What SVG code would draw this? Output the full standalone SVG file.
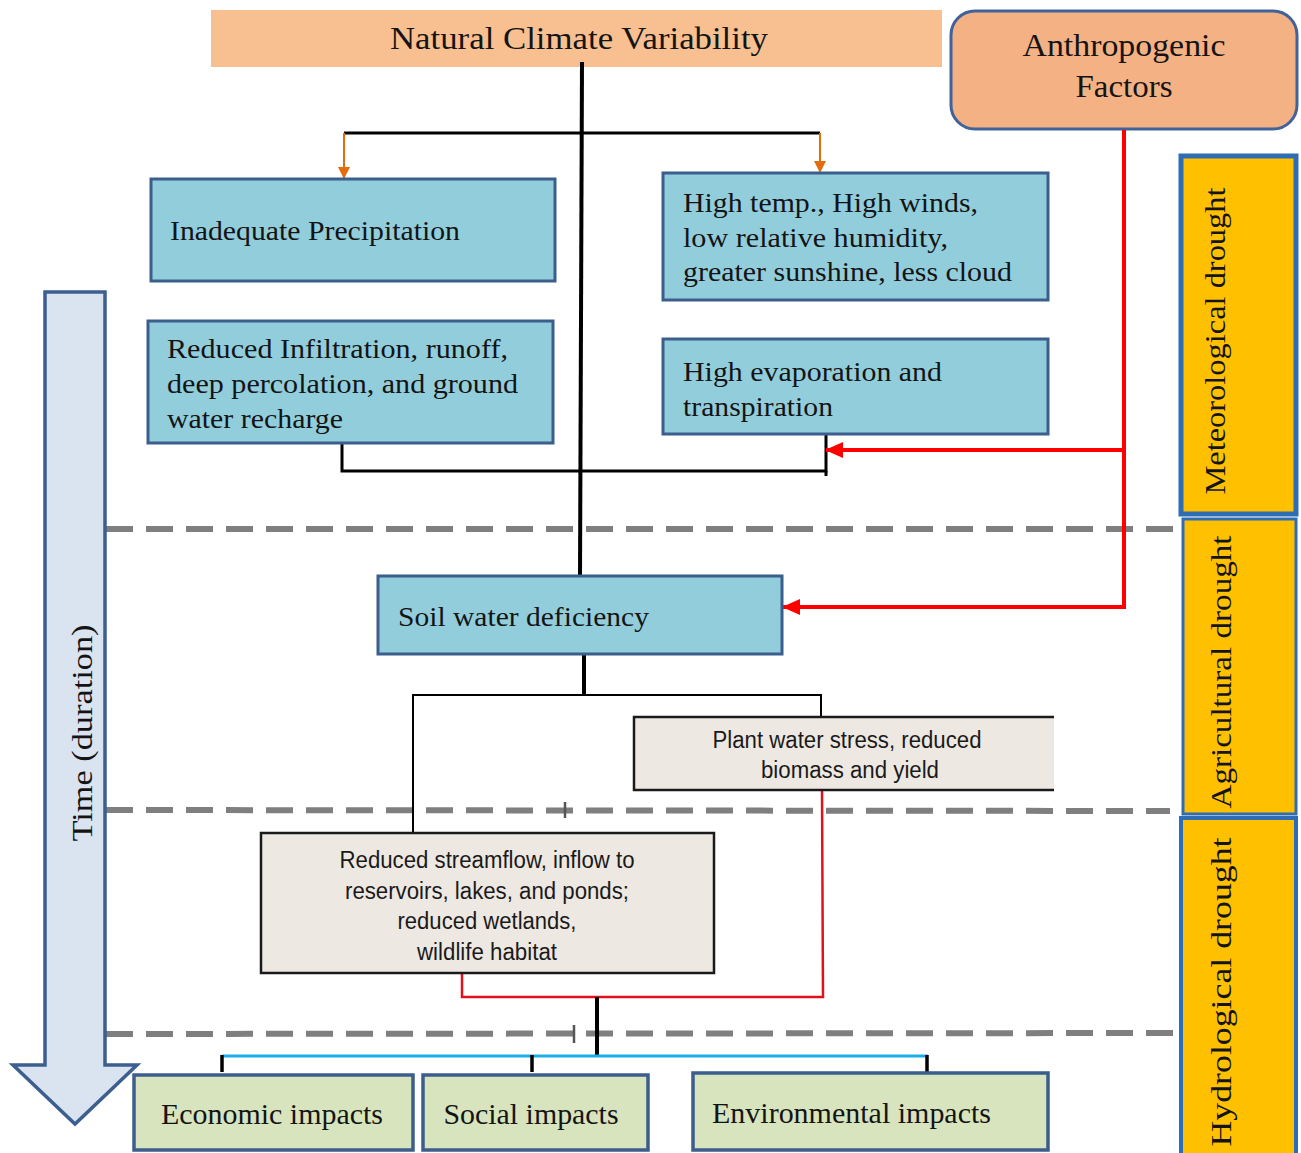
<svg xmlns="http://www.w3.org/2000/svg" width="1301" height="1153" viewBox="0 0 1301 1153">
<style>
.serif{font-family:"Liberation Serif","Times New Roman",serif;fill:#141414}
.sans{font-family:"Liberation Sans",Arial,sans-serif;fill:#1a1a1a;font-size:23px}
.blue{fill:#92CDDC;stroke:#3B5E8C;stroke-width:3}
.beige{fill:#EEE8E2;stroke:#1a1a1a;stroke-width:2.5}
.green{fill:#D7E4BD;stroke:#3B5E8C;stroke-width:3.5}
.bar{fill:#FFC000;stroke:#2E6DB4}
.dash{stroke:#7F7F7F;stroke-width:6;stroke-dasharray:27 13;fill:none}
.blk{stroke:#000;fill:none}
.red{stroke:#FF0000;fill:none}
</style>
<defs>
<marker id="ao" markerWidth="12" markerHeight="12" refX="11" refY="6" orient="auto" markerUnits="userSpaceOnUse" viewBox="0 0 12 12"><path d="M0,0 L12,6 L0,12 Z" fill="#E46C0A"/></marker>
<marker id="ar" markerWidth="18" markerHeight="18" refX="17" refY="9" orient="auto" markerUnits="userSpaceOnUse" viewBox="0 0 18 18"><path d="M0,1 L18,9 L0,17 Z" fill="#FF0000"/></marker>
</defs>
<rect width="1301" height="1153" fill="#fff"/>

<g id="dashes">
<line class="dash" x1="106" y1="529" x2="1180" y2="529"/>
<line class="dash" x1="106" y1="810" x2="1170" y2="811"/>
<line class="dash" x1="106" y1="1034" x2="1178" y2="1033"/>
</g>

<g id="time-arrow">
<polygon points="45,292 105,292 105,1065 137,1065 75,1124 13,1065 45,1065" fill="#DAE3F0" stroke="#3D5F90" stroke-width="3.5"/>
<text class="serif" font-size="30" text-anchor="middle" textLength="217" lengthAdjust="spacingAndGlyphs" transform="translate(82,733) rotate(-90)" y="10">Time (duration)</text>
</g>

<g id="natural">
<rect x="211" y="10" width="731" height="57" fill="#F8C090"/>
<text class="serif" font-size="32" x="579" y="49" text-anchor="middle" textLength="378" lengthAdjust="spacingAndGlyphs">Natural Climate Variability</text>
</g>

<g id="anthropogenic">
<rect x="951" y="11" width="346" height="118" rx="24" fill="#F4B183" stroke="#41639A" stroke-width="3"/>
<text class="serif" font-size="31" x="1124" y="56" text-anchor="middle" textLength="203" lengthAdjust="spacingAndGlyphs">Anthropogenic</text>
<text class="serif" font-size="31" x="1124" y="97" text-anchor="middle" textLength="97" lengthAdjust="spacingAndGlyphs">Factors</text>
</g>

<g id="connectors">
<line class="blk" x1="582" y1="62" x2="580" y2="576" stroke-width="4"/>
<polyline class="blk" points="344,133 820,133" stroke-width="3"/>
<line x1="344" y1="133" x2="344" y2="178" stroke="#E46C0A" stroke-width="2" marker-end="url(#ao)"/>
<line x1="820" y1="133" x2="820" y2="172" stroke="#E46C0A" stroke-width="2" marker-end="url(#ao)"/>
<polyline class="blk" points="342,443 342,471 826,471 826,434" stroke-width="3"/>
<line class="blk" x1="826" y1="471" x2="826" y2="476" stroke-width="3"/>
<polyline class="red" points="1124,130 1124,607 783,607" stroke-width="4" marker-end="url(#ar)"/>
<line class="red" x1="1124" y1="450" x2="826" y2="450" stroke-width="4" marker-end="url(#ar)"/>
<line class="blk" x1="584" y1="654" x2="584" y2="694" stroke-width="4"/>
<polyline class="blk" points="413,833 413,695 821,695 821,717" stroke-width="2"/>
<polyline points="822,790 823,997 462,997 462,973" fill="none" stroke="#E2101A" stroke-width="2.5"/>
<line class="blk" x1="597" y1="997" x2="597" y2="1055" stroke-width="4"/>
<line x1="222" y1="1056" x2="928" y2="1056" stroke="#1AAEE8" stroke-width="3"/>
<line class="blk" x1="222" y1="1055" x2="222" y2="1072" stroke-width="3.5"/>
<line class="blk" x1="532" y1="1055" x2="532" y2="1072" stroke-width="3.5"/>
<line class="blk" x1="927" y1="1055" x2="927" y2="1075" stroke-width="3.5"/>
<line x1="565" y1="802" x2="565" y2="818" stroke="#555" stroke-width="2.5"/>
<line x1="574" y1="1025" x2="574" y2="1043" stroke="#555" stroke-width="2.5"/>
</g>

<g id="inadequate">
<rect class="blue" x="151" y="179" width="404" height="102"/>
<text class="serif" font-size="28" x="170" y="240" textLength="290" lengthAdjust="spacingAndGlyphs">Inadequate Precipitation</text>
</g>

<g id="hightemp">
<rect class="blue" x="663" y="173" width="385" height="127"/>
<text class="serif" font-size="28" x="683" y="212" textLength="295" lengthAdjust="spacingAndGlyphs">High temp., High winds,</text>
<text class="serif" font-size="28" x="683" y="247" textLength="265" lengthAdjust="spacingAndGlyphs">low relative humidity,</text>
<text class="serif" font-size="28" x="683" y="281" textLength="329" lengthAdjust="spacingAndGlyphs">greater sunshine, less cloud</text>
</g>

<g id="reduced-infiltration">
<rect class="blue" x="148" y="321" width="405" height="122"/>
<text class="serif" font-size="28" x="167" y="358" textLength="341" lengthAdjust="spacingAndGlyphs">Reduced Infiltration, runoff,</text>
<text class="serif" font-size="28" x="167" y="393" textLength="351" lengthAdjust="spacingAndGlyphs">deep percolation, and ground</text>
<text class="serif" font-size="28" x="167" y="428" textLength="176" lengthAdjust="spacingAndGlyphs">water recharge</text>
</g>

<g id="high-evaporation">
<rect class="blue" x="663" y="339" width="385" height="95"/>
<text class="serif" font-size="28" x="683" y="381" textLength="259" lengthAdjust="spacingAndGlyphs">High evaporation and</text>
<text class="serif" font-size="28" x="683" y="416" textLength="150" lengthAdjust="spacingAndGlyphs">transpiration</text>
</g>

<g id="soil">
<rect class="blue" x="378" y="576" width="404" height="78"/>
<text class="serif" font-size="28" x="398" y="626" textLength="251" lengthAdjust="spacingAndGlyphs">Soil water deficiency</text>
</g>

<g id="plant">
<rect x="634" y="717" width="420" height="73" fill="#EEE8E2"/>
<polyline points="1054,717 634,717 634,790 1054,790" fill="none" stroke="#1a1a1a" stroke-width="2.5"/>
<text class="sans" x="847" y="748" text-anchor="middle" textLength="269" lengthAdjust="spacingAndGlyphs">Plant water stress, reduced</text>
<text class="sans" x="850" y="778" text-anchor="middle" textLength="178" lengthAdjust="spacingAndGlyphs">biomass and yield</text>
</g>

<g id="streamflow">
<rect class="beige" x="261" y="833" width="453" height="140"/>
<text class="sans" x="487" y="868" text-anchor="middle" textLength="295" lengthAdjust="spacingAndGlyphs">Reduced streamflow, inflow to</text>
<text class="sans" x="487" y="899" text-anchor="middle" textLength="284" lengthAdjust="spacingAndGlyphs">reservoirs, lakes, and ponds;</text>
<text class="sans" x="487" y="929" text-anchor="middle" textLength="179" lengthAdjust="spacingAndGlyphs">reduced wetlands,</text>
<text class="sans" x="487" y="960" text-anchor="middle" textLength="140" lengthAdjust="spacingAndGlyphs">wildlife habitat</text>
</g>

<g id="economic">
<rect class="green" x="134" y="1075" width="279" height="75"/>
<text class="serif" font-size="29" x="272" y="1124" text-anchor="middle" textLength="222" lengthAdjust="spacingAndGlyphs">Economic impacts</text>
</g>
<g id="social">
<rect class="green" x="423" y="1075" width="225" height="75"/>
<text class="serif" font-size="29" x="531" y="1124" text-anchor="middle" textLength="175" lengthAdjust="spacingAndGlyphs">Social impacts</text>
</g>
<g id="environmental">
<rect class="green" x="693" y="1073" width="355" height="77"/>
<text class="serif" font-size="29" x="712" y="1123" textLength="279" lengthAdjust="spacingAndGlyphs">Environmental impacts</text>
</g>

<g id="meteorological">
<rect class="bar" x="1181" y="156" width="115" height="358" stroke-width="5"/>
<text class="serif" font-size="30" text-anchor="middle" textLength="307" lengthAdjust="spacingAndGlyphs" transform="translate(1215,341) rotate(-90)" y="10">Meteorological drought</text>
</g>
<g id="agricultural">
<rect class="bar" x="1183" y="519" width="113" height="295" stroke-width="3"/>
<text class="serif" font-size="30" text-anchor="middle" textLength="273" lengthAdjust="spacingAndGlyphs" transform="translate(1221,672) rotate(-90)" y="10">Agricultural drought</text>
</g>
<g id="hydrological">
<rect class="bar" x="1181" y="818" width="115" height="340" stroke-width="4"/>
<text class="serif" font-size="30" text-anchor="middle" textLength="309" lengthAdjust="spacingAndGlyphs" transform="translate(1221,992) rotate(-90)" y="10">Hydrological drought</text>
</g>
</svg>
